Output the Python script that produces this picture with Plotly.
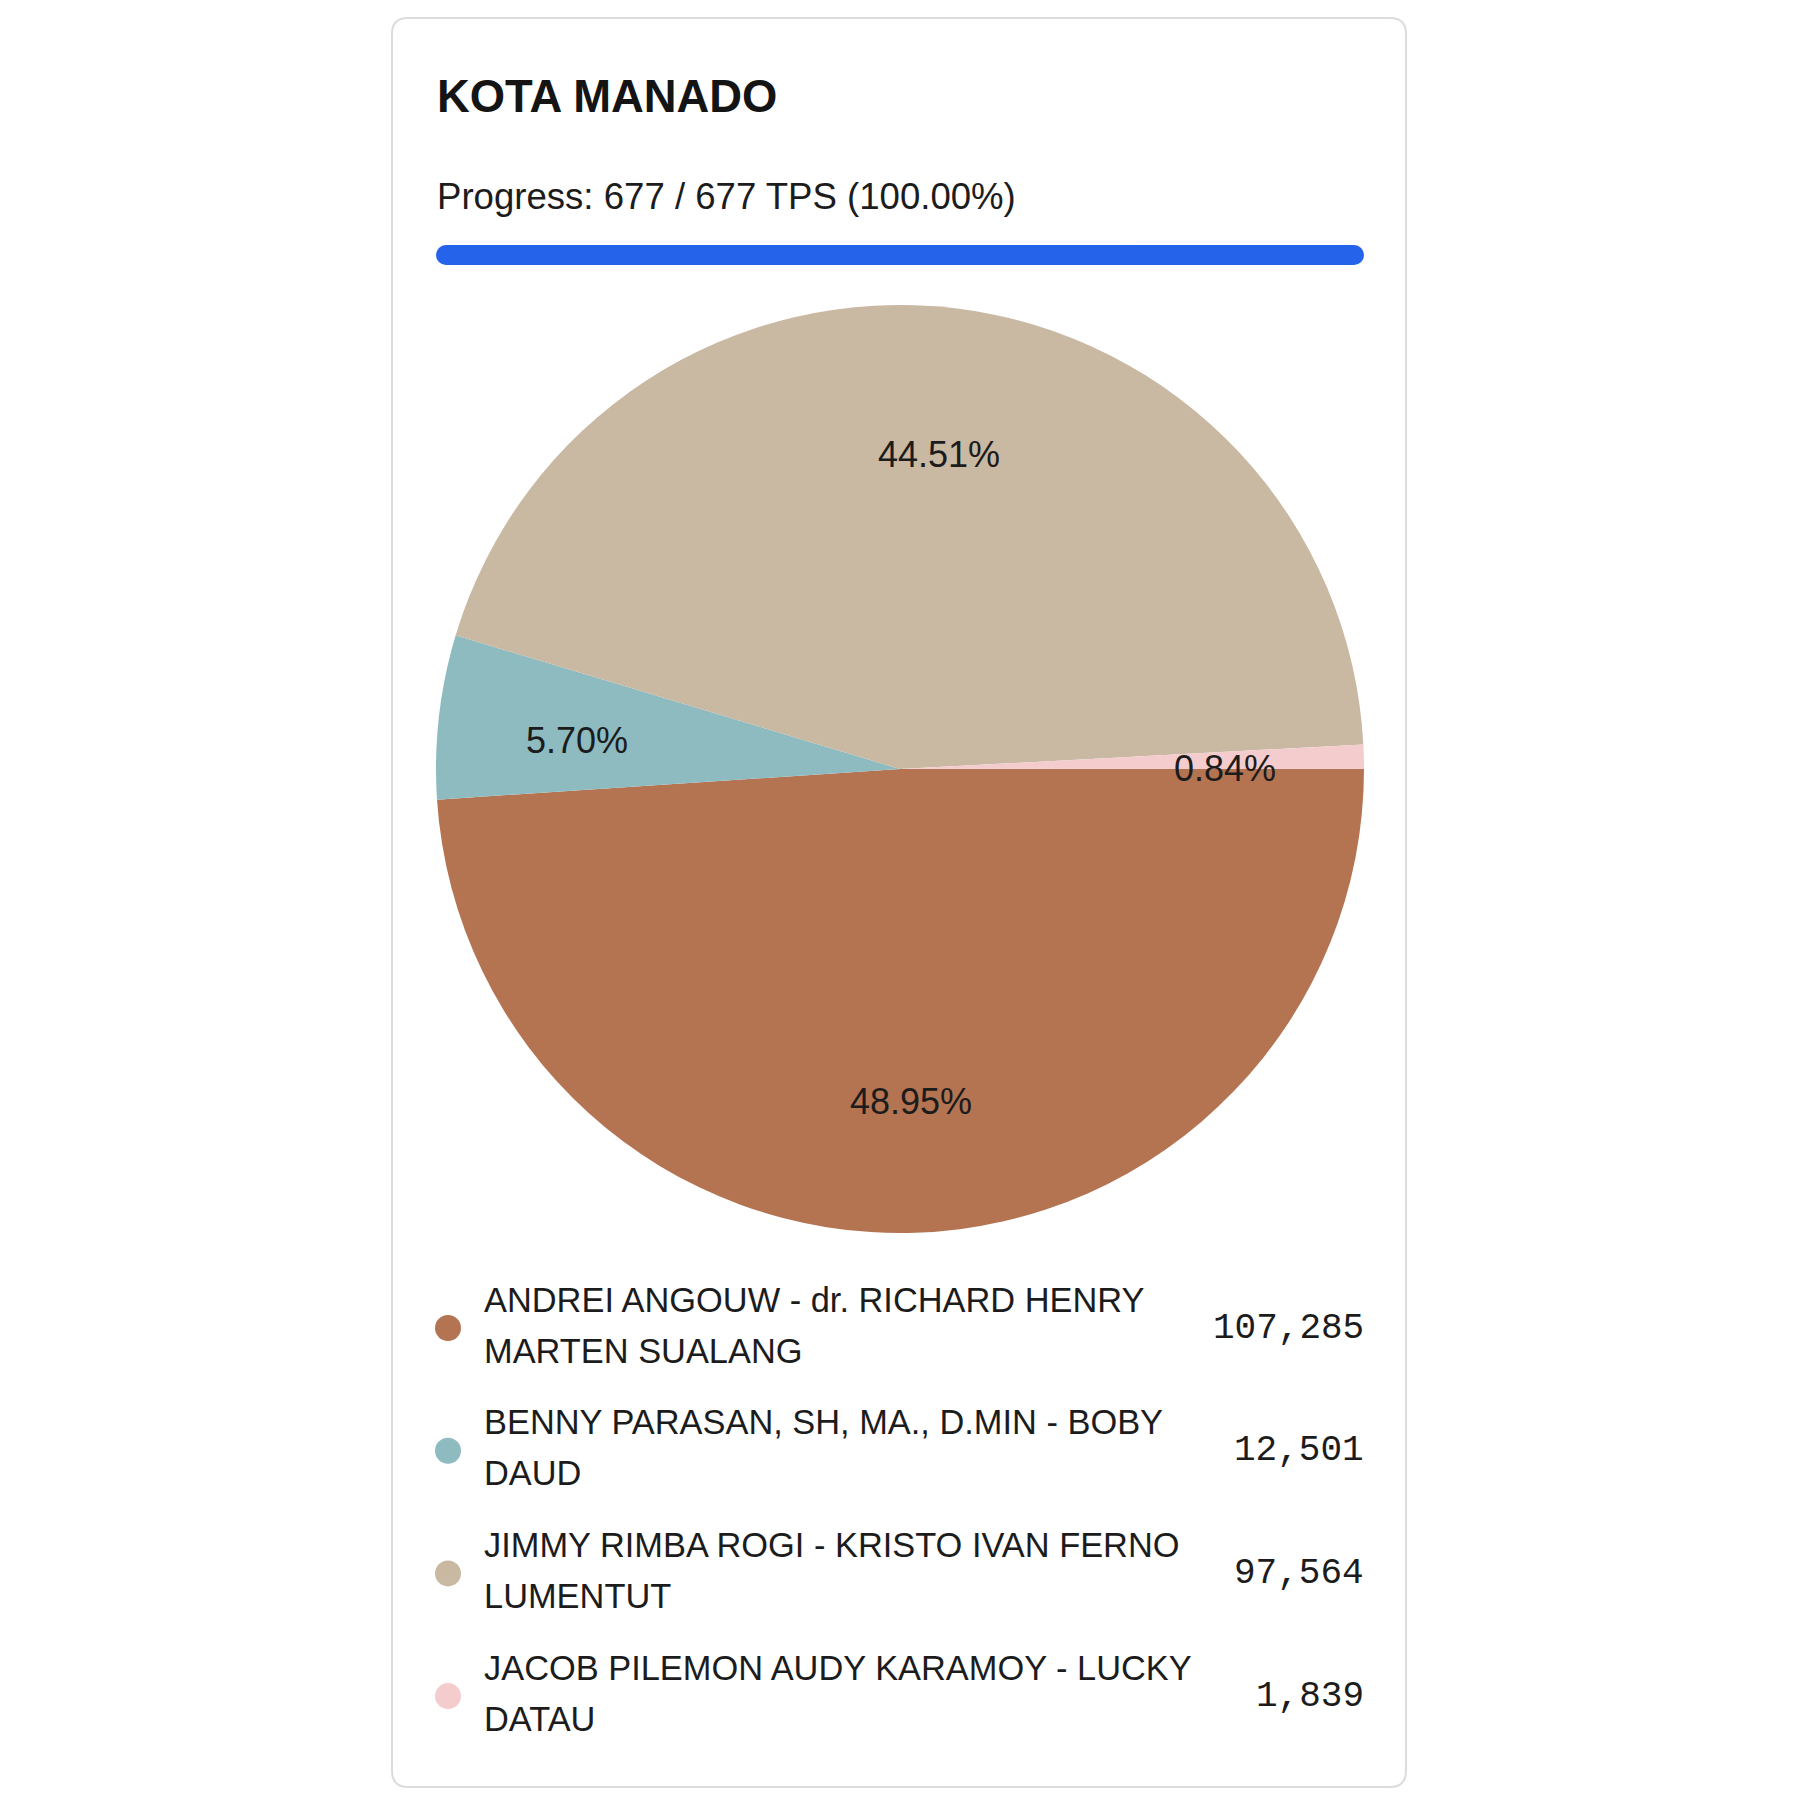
import math
import plotly.graph_objects as go

# ---- data ----
region_title = "KOTA MANADO"
tps_done = 677
tps_total = 677
candidates = [
    "ANDREI ANGOUW - dr. RICHARD HENRY<br>MARTEN SUALANG",
    "BENNY PARASAN, SH, MA., D.MIN - BOBY<br>DAUD",
    "JIMMY RIMBA ROGI - KRISTO IVAN FERNO<br>LUMENTUT",
    "JACOB PILEMON AUDY KARAMOY - LUCKY<br>DATAU",
]
votes = [107285, 12501, 97564, 1839]
colors = ["#B47452", "#8DBBC0", "#C9B8A2", "#F4CCCD"]

W = H = 1800
FONT = "Liberation Sans, Arial, sans-serif"
MONO = "Liberation Mono, DejaVu Sans Mono, monospace"
TXT = "#1c1c1c"

def px(x):
    return x / W

def py(y):
    return 1 - y / H

fig = go.Figure()

# ---- card ----
cx0, cy0, cx1, cy1, rad = 392, 18, 1406, 1787, 16
path = (f"M {px(cx0+rad)} {py(cy0)} L {px(cx1-rad)} {py(cy0)} "
        f"Q {px(cx1)} {py(cy0)} {px(cx1)} {py(cy0+rad)} "
        f"L {px(cx1)} {py(cy1-rad)} Q {px(cx1)} {py(cy1)} {px(cx1-rad)} {py(cy1)} "
        f"L {px(cx0+rad)} {py(cy1)} Q {px(cx0)} {py(cy1)} {px(cx0)} {py(cy1-rad)} "
        f"L {px(cx0)} {py(cy0+rad)} Q {px(cx0)} {py(cy0)} {px(cx0+rad)} {py(cy0)} Z")
fig.add_shape(type="path", path=path, xref="paper", yref="paper",
              line=dict(color="#DCDCDC", width=2), fillcolor="white", layer="below")

# ---- pie ----
PCX, PCY, PR = 900, 769, 464
fig.add_trace(go.Pie(
    labels=[c.replace("<br>", " ") for c in candidates], values=votes,
    marker=dict(colors=colors, line=dict(width=0)),
    sort=False, direction="clockwise", rotation=90,
    textinfo="none", hoverinfo="label+value+percent", showlegend=False,
    domain=dict(x=[px(PCX - PR), px(PCX + PR)], y=[py(PCY + PR), py(PCY - PR)]),
))

total = sum(votes)
cum = 0.0
for v in votes:
    frac = v / total
    theta = math.radians((cum + frac / 2) * 360)  # clockwise from 3 o'clock
    cum += frac
    lx = PCX + 0.7 * PR * math.cos(theta)
    ly = PCY + 0.7 * PR * math.sin(theta)
    fig.add_annotation(x=px(lx), y=py(ly), xref="paper", yref="paper",
                       text=f"{frac*100:.2f}%", showarrow=False, yshift=-8,
                       xanchor="center", yanchor="middle",
                       font=dict(family=FONT, size=36, color=TXT))

# ---- progress bar (two overlapping pieces so both ends get rounded) ----
def pill(value, col):
    # right piece: from 25% to 100% of value (rounded right end)
    fig.add_trace(go.Bar(x=[value * 0.75], base=[value * 0.25], y=[0], orientation="h",
                         marker=dict(color=col, cornerradius=10, line=dict(width=0)),
                         width=1, hoverinfo="skip", showlegend=False, xaxis="x", yaxis="y"))
    # left piece: from 75% down to 0 (rounded left end)
    fig.add_trace(go.Bar(x=[-value * 0.75], base=[value * 0.75], y=[0], orientation="h",
                         marker=dict(color=col, cornerradius=10, line=dict(width=0)),
                         width=1, hoverinfo="skip", showlegend=False, xaxis="x", yaxis="y"))

pill(tps_total, "#E5E7EB")
pill(tps_done, "#2563EB")

# ---- legend dots ----
rows = list(range(len(candidates)))
fig.add_trace(go.Scatter(x=[0] * len(rows), y=rows, mode="markers",
                         marker=dict(color=colors, size=26, symbol="circle"),
                         hoverinfo="skip", showlegend=False, xaxis="x2", yaxis="y2"))

ROW0, ROWSTEP = 1328, 122.7
for i, (name, v) in enumerate(zip(candidates, votes)):
    lines = name.split("<br>")
    n = len(lines)
    for j, ln in enumerate(lines):
        fig.add_annotation(x=px(482), y=i, xref="paper", yref="y2",
                           yshift=-(j - (n - 1) / 2) * 51 + 3,
                           text=ln, showarrow=False, xanchor="left", yanchor="middle",
                           font=dict(family=FONT, size=34.4, color=TXT))
    fig.add_annotation(x=px(1366), y=i, xref="paper", yref="y2",
                       text=f"{v:,}", showarrow=False, xanchor="right", yanchor="middle",
                       font=dict(family=MONO, size=36, color=TXT))

# ---- title & progress text ----
fig.add_annotation(x=px(435), y=py(96), xref="paper", yref="paper", text=f"<b>{region_title}</b>",
                   showarrow=False, xanchor="left", yanchor="middle",
                   font=dict(family=FONT, size=45.4, color="#141414"))
fig.add_annotation(x=px(435), y=py(196), xref="paper", yref="paper",
                   text=f"Progress: {tps_done} / {tps_total} TPS ({tps_done/tps_total*100:.2f}%)",
                   showarrow=False, xanchor="left", yanchor="middle",
                   font=dict(family=FONT, size=36.6, color=TXT))

fig.update_layout(
    width=W, height=H, margin=dict(l=0, r=0, t=0, b=0),
    paper_bgcolor="white", plot_bgcolor="rgba(0,0,0,0)",
    barmode="overlay",
    xaxis=dict(domain=[px(436), px(1364)], range=[0, tps_total], visible=False, fixedrange=True),
    yaxis=dict(domain=[py(265), py(245)], range=[-0.5, 0.5], visible=False, fixedrange=True),
    xaxis2=dict(domain=[px(430), px(466)], range=[-1, 1], visible=False, fixedrange=True),
    yaxis2=dict(domain=[py(ROW0 + 3.5 * ROWSTEP), py(ROW0 - 0.5 * ROWSTEP)],
                range=[3.5, -0.5], visible=False, fixedrange=True),
)

fig.write_html("out.html")
